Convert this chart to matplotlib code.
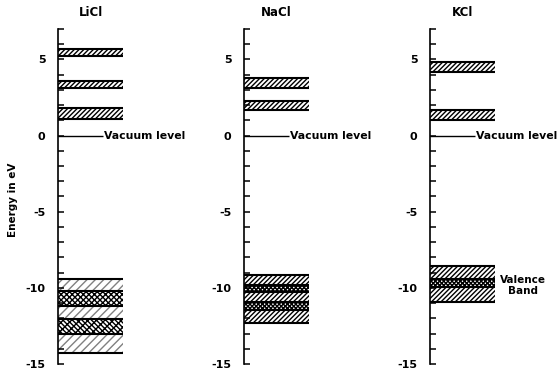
import matplotlib
matplotlib.use("Agg")
import matplotlib.pyplot as plt
from matplotlib.ticker import MultipleLocator

plt.rcParams["font.family"] = "DejaVu Sans"
plt.rcParams["font.weight"] = "bold"
plt.rcParams["axes.unicode_minus"] = False
plt.rcParams["hatch.linewidth"] = 1.0

compounds = ["LiCl", "NaCl", "KCl"]

# conduction bands (bottom, top) in eV
licl_cond = [(1.1, 1.8), (3.1, 3.6), (5.2, 5.7)]
nacl_cond = [(1.7, 2.25), (3.15, 3.8)]
kcl_cond = [(1.05, 1.65), (4.2, 4.8)]

# valence band layers (bottom, top, style)
licl_val = [(-10.2, -9.4, "sparse"), (-11.2, -10.2, "cross"), (-12.05, -11.2, "sparse"),
            (-13.05, -12.05, "cross2"), (-14.25, -13.05, "sparse")]
nacl_val = [(-9.8, -9.15, "hatch"), (-10.25, -9.8, "dots"), (-10.9, -10.25, "hatch"),
            (-11.45, -10.9, "dots"), (-12.3, -11.45, "hatch")]
kcl_val = [(-9.4, -8.55, "hatch"), (-9.95, -9.4, "dots"), (-10.95, -9.95, "hatch")]

cond_bands = [licl_cond, nacl_cond, kcl_cond]
val_bands = [licl_val, nacl_val, kcl_val]

styles = {
    "hatch": ("///////", "black"),
    "sparse": ("////", "0.5"),
    "cross": ("xxxxxx", "black"),
    "cross2": ("\\\\\\\\\\\\\\////", "black"),
    "dots": ("xxxxxxxx", "black"),
}

fig = plt.figure(figsize=(5.58, 3.74), dpi=100)
lefts = [58, 244, 430]
W, H = 558, 374
bottom_px, top_px = 364, 29

for i, name in enumerate(compounds):
    ax = fig.add_axes([lefts[i] / W, (H - bottom_px) / H, 65 / W, (bottom_px - top_px) / H])
    ax.set_xlim(0, 1)
    ax.set_ylim(-15, 7)
    for s in ["top", "right", "bottom"]:
        ax.spines[s].set_visible(False)
    ax.spines["left"].set_linewidth(1.2)
    ax.set_xticks([])
    ax.yaxis.set_major_locator(MultipleLocator(5))
    ax.yaxis.set_minor_locator(MultipleLocator(1))
    ax.tick_params(axis="y", which="both", direction="in", length=4, width=1.1, pad=9, labelsize=8)
    for lab in ax.get_yticklabels():
        lab.set_fontweight("bold")

    for b, t in cond_bands[i]:
        ax.bar(0.5, t - b, bottom=b, width=1, color="white", hatch="///////", edgecolor="black", linewidth=0)
        ax.hlines([b, t], 0, 1, color="black", lw=1.5)
    edges = []
    for b, t, st in val_bands[i]:
        h, c = styles[st]
        ax.bar(0.5, t - b, bottom=b, width=1, color="white", hatch=h, edgecolor=c, linewidth=0)
        edges += [b, t]
    ax.hlines(sorted(set(edges)), 0, 1, color="black", lw=1.5)

    ax.hlines(0, 0, 0.69, color="black", lw=1.0)
    ax.text(0.7, 0, "Vacuum level", va="center", ha="left", fontsize=7.8, fontweight="bold", clip_on=False)
    ax.set_title(name, fontsize=8.5, fontweight="bold", pad=9)

    if i == 0:
        ax.set_ylabel("Energy in eV", fontsize=7.5, fontweight="bold")
        ax.yaxis.set_label_coords(-0.62, 0.49)
    if i == 2:
        ax.text(1.43, -9.85, "Valence\nBand", ha="center", va="center", fontsize=7.5,
                fontweight="bold", linespacing=1.1, clip_on=False)

fig.savefig("out.png", dpi=100)
